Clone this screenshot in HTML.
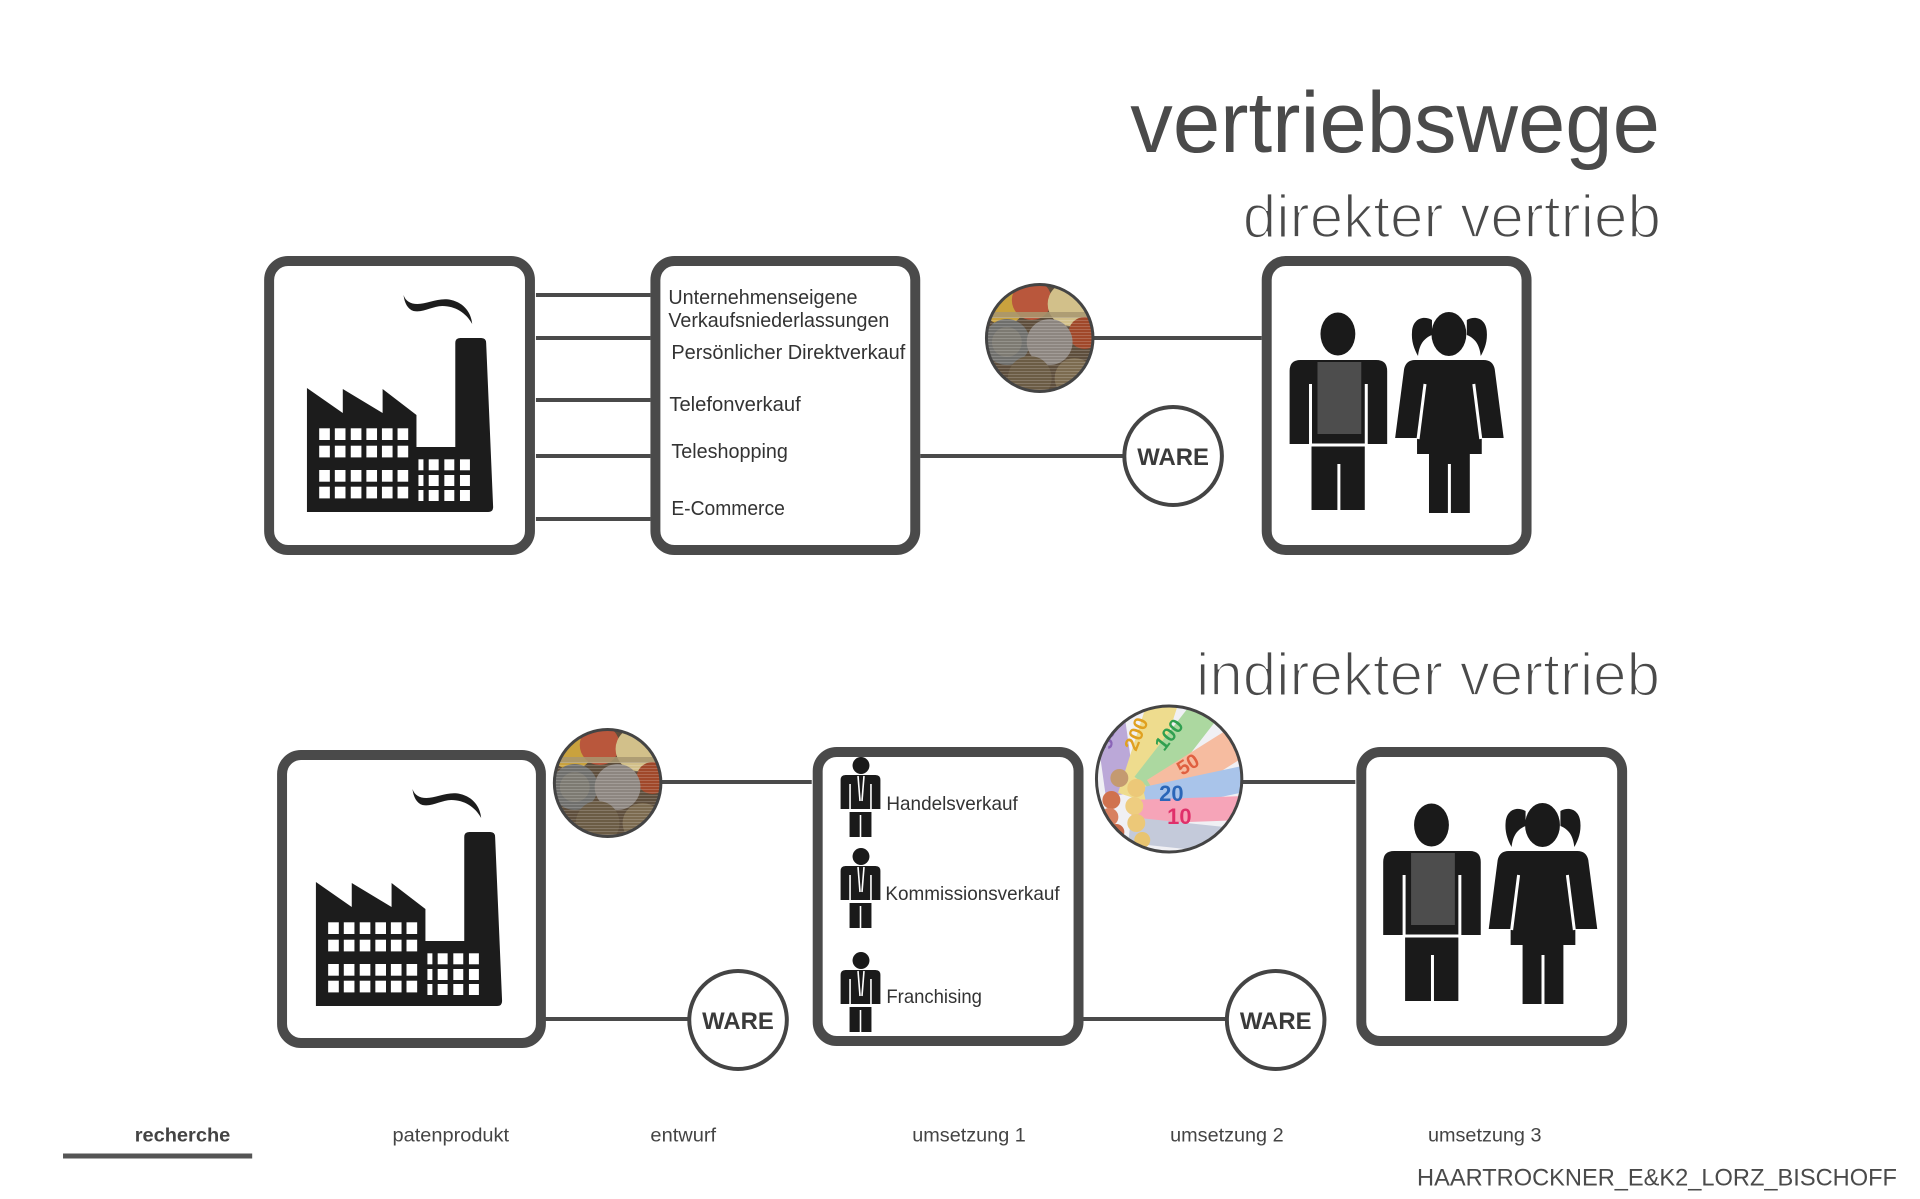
<!DOCTYPE html>
<html>
<head>
<meta charset="utf-8">
<style>
  html,body{margin:0;padding:0;background:#fff;overflow:hidden;}
  svg{display:block;}
</style>
</head>
<body>
<svg width="1920" height="1199" viewBox="0 0 1920 1199" xmlns="http://www.w3.org/2000/svg" font-family="'Liberation Sans', Arial, sans-serif">
  <defs>
    <clipPath id="coinClip"><circle cx="0" cy="0" r="54"/></clipPath>
    <clipPath id="moneyClip"><circle cx="1173" cy="779" r="73"/></clipPath>
    <pattern id="scan" width="4" height="3" patternUnits="userSpaceOnUse">
      <rect x="0" y="0" width="4" height="1" fill="#ffffff" opacity="0.18"/>
    </pattern>
  </defs>
<g transform="translate(1.3,0) scale(0.9956,1)">
  <!-- Titles -->
  <text x="1134" y="152" font-size="86" fill="#4a4a4a" textLength="532" lengthAdjust="spacingAndGlyphs">vertriebswege</text>
  <text x="1247" y="237" font-size="60" fill="#4a4a4a" stroke="#fff" stroke-width="1.8" textLength="420" lengthAdjust="spacingAndGlyphs">direkter vertrieb</text>
  <text x="1200" y="695" font-size="60" fill="#4a4a4a" stroke="#fff" stroke-width="1.8" textLength="466" lengthAdjust="spacingAndGlyphs">indirekter vertrieb</text>

  <!-- Connector lines -->
  <g stroke="#4a4a4a" stroke-width="4">
    <line x1="537" y1="295" x2="652" y2="295"/>
    <line x1="537" y1="338" x2="652" y2="338"/>
    <line x1="537" y1="400" x2="652" y2="400"/>
    <line x1="537" y1="456" x2="652" y2="456"/>
    <line x1="537" y1="519" x2="652" y2="519"/>
    <line x1="923" y1="456" x2="1128" y2="456"/>
    <line x1="1096" y1="338" x2="1266" y2="338"/>

    <line x1="546" y1="1019" x2="690" y2="1019"/>
    <line x1="662" y1="782" x2="814" y2="782"/>
    <line x1="1086" y1="1019" x2="1230" y2="1019"/>
    <line x1="1245" y1="782" x2="1360" y2="782"/>
  </g>

  <!-- Boxes -->
  <g fill="#fff" stroke="#4a4a4a" stroke-width="10">
    <rect x="269" y="261" width="262" height="289" rx="19"/>
    <rect x="657" y="261" width="261" height="289" rx="19"/>
    <rect x="1271" y="261" width="261" height="289" rx="19"/>
    <rect x="282" y="755" width="260" height="288" rx="19"/>
    <rect x="820" y="752" width="262" height="289" rx="19"/>
    <rect x="1366" y="752" width="262" height="289" rx="19"/>
  </g>

  <!-- Factory (top) -->
  <g id="factory" fill="#1c1c1c">
    <path d="M307,512 L307,388 L343,413 L343,389 L383,413 L383,389 L417,415 L417,447 L456,447 L456,343 Q456,338 461,338 L482,338 Q487,338 487,343 L494,507 Q494,512 489,512 Z"/>
    <path d="M404,295 C405,303 408,309 414,311 C424,313 433,306 443,306 C456,306 467,313 473,324 C472,313 465,303 452,300 C440,297 428,304 418,304 C411,304 406,301 404,295 Z"/>
    <g fill="#fff">
      <rect x="319.3" y="428.3" width="10.7" height="11.7"/><rect x="335" y="428.3" width="10.7" height="11.7"/><rect x="351" y="428.3" width="10.7" height="11.7"/><rect x="366.7" y="428.3" width="10.7" height="11.7"/><rect x="382.3" y="428.3" width="10.7" height="11.7"/><rect x="398" y="428.3" width="10.7" height="11.7"/>
      <rect x="319.3" y="445.7" width="10.7" height="11.7"/><rect x="335" y="445.7" width="10.7" height="11.7"/><rect x="351" y="445.7" width="10.7" height="11.7"/><rect x="366.7" y="445.7" width="10.7" height="11.7"/><rect x="382.3" y="445.7" width="10.7" height="11.7"/><rect x="398" y="445.7" width="10.7" height="11.7"/>
      <rect x="319.3" y="470" width="10.7" height="11.7"/><rect x="335" y="470" width="10.7" height="11.7"/><rect x="351" y="470" width="10.7" height="11.7"/><rect x="366.7" y="470" width="10.7" height="11.7"/><rect x="382.3" y="470" width="10.7" height="11.7"/><rect x="398" y="470" width="10.7" height="11.7"/>
      <rect x="319.3" y="486.7" width="10.7" height="11.7"/><rect x="335" y="486.7" width="10.7" height="11.7"/><rect x="351" y="486.7" width="10.7" height="11.7"/><rect x="366.7" y="486.7" width="10.7" height="11.7"/><rect x="382.3" y="486.7" width="10.7" height="11.7"/><rect x="398" y="486.7" width="10.7" height="11.7"/>
      <rect x="419" y="459.3" width="5" height="11"/><rect x="429.3" y="459.3" width="10" height="11"/><rect x="445" y="459.3" width="10" height="11"/><rect x="460.7" y="459.3" width="10" height="11"/>
      <rect x="419" y="475" width="5" height="11"/><rect x="429.3" y="475" width="10" height="11"/><rect x="445" y="475" width="10" height="11"/><rect x="460.7" y="475" width="10" height="11"/>
      <rect x="419" y="490" width="5" height="11"/><rect x="429.3" y="490" width="10" height="11"/><rect x="445" y="490" width="10" height="11"/><rect x="460.7" y="490" width="10" height="11"/>
    </g>
  </g>
  <!-- Factory (bottom) -->
  <use href="#factory" transform="translate(9,494)"/>

  <!-- Persons (bottom box coords) -->
  <g id="persons">
    <g fill="#1a1a1a">
      <ellipse cx="1436.5" cy="825" rx="17.5" ry="21.5"/>
      <path d="M1388,935 L1388,862 Q1388,851 1399,851 L1475,851 Q1486,851 1486,862 L1486,935 Z"/>
      <rect x="1410" y="937" width="53.5" height="64"/>
      <ellipse cx="1548" cy="825" rx="17.5" ry="22"/>
      <path d="M1531,811 C1522,806 1512,810 1511,822 C1510,832 1513,840 1517,847 C1518,838 1521,830 1531,826 Z"/>
      <path d="M1566,811 C1575,806 1585,810 1586,822 C1587,832 1584,840 1580,847 C1579,838 1576,830 1566,826 Z"/>
      <path d="M1494,929 L1503,860 Q1505,851 1514,851 L1583,851 Q1592,851 1594,860 L1603,929 L1581,929 L1581,945 L1516,945 L1516,929 Z"/>
      <rect x="1528" y="945" width="41" height="59"/>
    </g>
    <rect x="1416" y="853" width="44" height="72" fill="#4d4d4d"/>
    <g stroke="#fff" stroke-width="3">
      <line x1="1409" y1="875" x2="1409" y2="936"/>
      <line x1="1465" y1="875" x2="1465" y2="936"/>
      <line x1="1408" y1="936" x2="1466" y2="936"/>
      <line x1="1437.5" y1="955" x2="1437.5" y2="1002"/>
      <line x1="1524" y1="875" x2="1517" y2="930"/>
      <line x1="1573" y1="875" x2="1580" y2="930"/>
      <line x1="1548.5" y1="955" x2="1548.5" y2="1005"/>
    </g>
  </g>
  <use href="#persons" transform="translate(-94,-491)"/>

  <!-- Businessman icons -->
  <g id="biz">
    <circle cx="863.5" cy="765.5" r="8.5" fill="#1a1a1a"/>
    <path d="M843,809 L843,780 Q843,775 848,775 L878,775 Q883,775 883,780 L883,809 Z" fill="#1a1a1a"/>
    <rect x="852" y="812" width="22" height="25" fill="#1a1a1a"/>
    <g stroke="#fff" stroke-width="1.6">
      <line x1="852.5" y1="784" x2="852.5" y2="810"/>
      <line x1="873.5" y1="784" x2="873.5" y2="810"/>
      <line x1="860.5" y1="776" x2="862.5" y2="801"/>
      <line x1="866.5" y1="776" x2="864.5" y2="801"/>
      <line x1="850" y1="810.5" x2="876" y2="810.5"/>
      <line x1="863" y1="815" x2="863" y2="838"/>
    </g>
  </g>
  <use href="#biz" transform="translate(0,91)"/>
  <use href="#biz" transform="translate(0,195)"/>

  <!-- List texts top -->
  <g fill="#333" font-size="20.5">
    <text x="670" y="304" textLength="190" lengthAdjust="spacingAndGlyphs">Unternehmenseigene</text>
    <text x="670" y="327" textLength="222" lengthAdjust="spacingAndGlyphs">Verkaufsniederlassungen</text>
    <text x="673" y="359" textLength="235" lengthAdjust="spacingAndGlyphs">Persönlicher Direktverkauf</text>
    <text x="671" y="411" textLength="132" lengthAdjust="spacingAndGlyphs">Telefonverkauf</text>
    <text x="673" y="458" textLength="117" lengthAdjust="spacingAndGlyphs">Teleshopping</text>
    <text x="673" y="515" textLength="114" lengthAdjust="spacingAndGlyphs">E-Commerce</text>
  </g>
  <!-- List texts bottom -->
  <g fill="#333" font-size="19">
    <text x="889" y="810" textLength="132" lengthAdjust="spacingAndGlyphs">Handelsverkauf</text>
    <text x="888" y="900" textLength="175" lengthAdjust="spacingAndGlyphs">Kommissionsverkauf</text>
    <text x="889" y="1003" textLength="96" lengthAdjust="spacingAndGlyphs">Franchising</text>
  </g>

  <!-- Coin circles -->
  <g transform="translate(1043,338)">
    <g clip-path="url(#coinClip)">
      <rect x="-60" y="-60" width="120" height="120" fill="#5e4e3c"/>
      <circle cx="-36" cy="-34" r="21" fill="#c9a23e"/>
      <circle cx="-8" cy="-38" r="20" fill="#b9573c"/>
      <circle cx="30" cy="-34" r="22" fill="#d2c08a"/>
      <rect x="-60" y="-26" width="120" height="6" fill="#a89670" opacity="0.85"/>
      <circle cx="45" cy="-5" r="16" fill="#a0482a"/>
      <circle cx="-33" cy="4" r="23" fill="#6f6f6c"/>
      <circle cx="-33" cy="4" r="15" fill="#7d7a72"/>
      <circle cx="10" cy="4" r="23" fill="#8d8680"/>
      <circle cx="-10" cy="40" r="22" fill="#6b5c45"/>
      <circle cx="35" cy="40" r="20" fill="#7c6b50"/>
      <rect x="-60" y="-22" width="120" height="82" fill="url(#scan)"/>
    </g>
    <circle cx="0" cy="0" r="53.5" fill="none" stroke="#444" stroke-width="3"/>
  </g>
  <g transform="translate(609,783)">
    <g clip-path="url(#coinClip)">
      <rect x="-60" y="-60" width="120" height="120" fill="#5e4e3c"/>
      <circle cx="-36" cy="-34" r="21" fill="#c9a23e"/>
      <circle cx="-8" cy="-38" r="20" fill="#b9573c"/>
      <circle cx="30" cy="-34" r="22" fill="#d2c08a"/>
      <rect x="-60" y="-26" width="120" height="6" fill="#a89670" opacity="0.85"/>
      <circle cx="45" cy="-5" r="16" fill="#a0482a"/>
      <circle cx="-33" cy="4" r="23" fill="#6f6f6c"/>
      <circle cx="-33" cy="4" r="15" fill="#7d7a72"/>
      <circle cx="10" cy="4" r="23" fill="#8d8680"/>
      <circle cx="-10" cy="40" r="22" fill="#6b5c45"/>
      <circle cx="35" cy="40" r="20" fill="#7c6b50"/>
      <rect x="-60" y="-22" width="120" height="82" fill="url(#scan)"/>
    </g>
    <circle cx="0" cy="0" r="53.5" fill="none" stroke="#444" stroke-width="3"/>
  </g>

  <!-- Money circle -->
  <g clip-path="url(#moneyClip)">
    <rect x="1095" y="700" width="160" height="160" fill="#f0f0f4"/>
    <rect x="1103" y="705" width="30" height="90" fill="#bba8d8" transform="rotate(-8 1119 750)"/>
    <rect x="1137" y="700" width="30" height="100" fill="#eedc8e" transform="rotate(18 1152 748)"/>
    <rect x="1167" y="697" width="30" height="100" fill="#acd8a0" transform="rotate(38 1182 745)"/>
    <rect x="1189" y="714" width="32" height="105" fill="#f6bca0" transform="rotate(58 1205 765)"/>
    <rect x="1192" y="735" width="26" height="110" fill="#a9c4ea" transform="rotate(78 1205 788)"/>
    <rect x="1180" y="757" width="24" height="110" fill="#f6a4b8" transform="rotate(88 1192 810)"/>
    <rect x="1177" y="783" width="26" height="110" fill="#c4cada" transform="rotate(96 1190 836)"/>
    <text x="1115" y="750" font-size="20" font-weight="bold" fill="#8a64b8" transform="rotate(-80 1115 750)">500</text>
    <text x="1140" y="752" font-size="20" font-weight="bold" fill="#e0a020" transform="rotate(-68 1140 752)">200</text>
    <text x="1168" y="752" font-size="20" font-weight="bold" fill="#30a050" transform="rotate(-52 1168 752)">100</text>
    <text x="1186" y="776" font-size="20" font-weight="bold" fill="#e06040" transform="rotate(-32 1186 776)">50</text>
    <text x="1163" y="801" font-size="22" font-weight="bold" fill="#2a66b8">20</text>
    <text x="1171" y="824" font-size="22" font-weight="bold" fill="#e0306a">10</text>
    <circle cx="1123" cy="778" r="9" fill="#c49a70"/>
    <circle cx="1115" cy="800" r="9" fill="#d0724e"/>
    <circle cx="1113" cy="817" r="9" fill="#d88060"/>
    <circle cx="1120" cy="832" r="8" fill="#c86a4a"/>
    <circle cx="1140" cy="788" r="9" fill="#ecc878"/>
    <circle cx="1138" cy="806" r="9" fill="#eecd80"/>
    <circle cx="1140" cy="823" r="9" fill="#ecc878"/>
    <circle cx="1146" cy="840" r="8" fill="#e8c470"/>
  </g>
  <circle cx="1173" cy="779" r="73" fill="none" stroke="#444" stroke-width="3"/>

  <!-- WARE circles -->
  <g fill="#fff" stroke="#444" stroke-width="4">
    <circle cx="1177" cy="456" r="49"/>
    <circle cx="740" cy="1020" r="49"/>
    <circle cx="1280" cy="1020" r="49"/>
  </g>
  <g fill="#3a3a3a" font-size="24" font-weight="bold" text-anchor="middle">
    <text x="1177" y="465" textLength="72" lengthAdjust="spacingAndGlyphs">WARE</text>
    <text x="740" y="1029" textLength="72" lengthAdjust="spacingAndGlyphs">WARE</text>
    <text x="1280" y="1029" textLength="72" lengthAdjust="spacingAndGlyphs">WARE</text>
  </g>

  <!-- Navigation -->
  <g fill="#444" font-size="19">
    <text x="134" y="1141.5" font-weight="bold" textLength="96" lengthAdjust="spacingAndGlyphs">recherche</text>
    <text x="393" y="1141.5" textLength="117" lengthAdjust="spacingAndGlyphs">patenprodukt</text>
    <text x="652" y="1141.5" textLength="66" lengthAdjust="spacingAndGlyphs">entwurf</text>
    <text x="915" y="1141.5" textLength="114" lengthAdjust="spacingAndGlyphs">umsetzung 1</text>
    <text x="1174" y="1141.5" textLength="114" lengthAdjust="spacingAndGlyphs">umsetzung 2</text>
    <text x="1433" y="1141.5" textLength="114" lengthAdjust="spacingAndGlyphs">umsetzung 3</text>
  </g>
  <rect x="62" y="1153.5" width="190" height="5" fill="#555"/>
  <text x="1422" y="1185.5" font-size="24" fill="#4a4a4a" textLength="482" lengthAdjust="spacingAndGlyphs">HAARTROCKNER_E&amp;K2_LORZ_BISCHOFF</text>
</g>
</svg>
</body>
</html>
